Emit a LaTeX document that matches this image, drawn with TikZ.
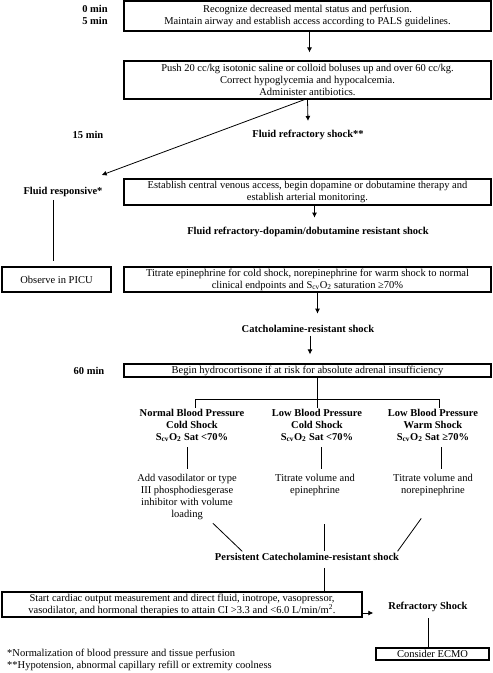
\documentclass[tikz,border=0pt]{standalone}
\usepackage{fontspec}
\setmainfont{Liberation Serif}
\usetikzlibrary{arrows.meta,calc}
\newcommand{\fs}{\fontsize{10.5}{12}\selectfont}
\newcommand{\scvo}{S\textsubscript{cv}O\textsubscript{2}}
\begin{document}
\begin{tikzpicture}[x=1pt,y=-1pt,
  box/.style={draw, line width=1.2pt, align=center, inner sep=0pt, font=\fs},
  lbl/.style={align=center, inner sep=1pt, font=\fs\bfseries},
  txt/.style={align=center, inner sep=1pt, font=\fs},
  arr/.style={-{Latex[length=5pt,width=5pt]}, line width=0.8pt},
  ln/.style={line width=0.8pt}]
\useasboundingbox (0,0) rectangle (493,673);
% time labels
\node[lbl] (tm0) at (95,9) {0 min};
\node[lbl] (tm5) at (95,21) {5 min};
\node[lbl] (tm15) at (88,135) {15 min};
\node[lbl] (tm60) at (89,371) {60 min};
% main boxes
\node[box, minimum width=367pt, minimum height=30pt] (b1) at (307.5,16) {Recognize decreased mental status and perfusion.\\Maintain airway and establish access according to PALS guidelines.};
\node[box, minimum width=367pt, minimum height=38pt] (b2) at (307.5,80) {Push 20 cc/kg isotonic saline or colloid boluses up and over 60 cc/kg.\\Correct hypoglycemia and hypocalcemia.\\Administer antibiotics.};
\node[lbl] (frs) at (308,135) {Fluid refractory shock**};
\node[lbl] (fr) at (63,192) {Fluid responsive*};
\node[box, minimum width=367pt, minimum height=26pt] (b3) at (307.5,192) {Establish central venous access, begin dopamine or dobutamine therapy and\\establish arterial monitoring.};
\node[lbl] (frd) at (308,232) {Fluid refractory-dopamin/dobutamine resistant shock};
\node[box, minimum width=109pt, minimum height=25pt] (obs) at (56.5,279.5) {Observe in PICU};
\node[box, minimum width=367pt, minimum height=25pt] (b4) at (307.5,279.5) {Titrate epinephrine for cold shock, norepinephrine for warm shock to normal\\clinical endpoints and \scvo{} saturation ≥70\%};
\node[lbl] (crs) at (308,329) {Catcholamine-resistant shock};
\node[box, minimum width=367pt, minimum height=13pt] (b5) at (307.5,370.5) {Begin hydrocortisone if at risk for absolute adrenal insufficiency};
% columns
\node[lbl] (h1) at (192,425.5) {Normal Blood Pressure\\Cold Shock\\\scvo{} Sat <70\%};
\node[lbl] (h2) at (317,425.5) {Low Blood Pressure\\Cold Shock\\\scvo{} Sat <70\%};
\node[lbl] (h3) at (433,425.5) {Low Blood Pressure\\Warm Shock\\\scvo{} Sat ≥70\%};
\node[txt] (c1) at (187,496.5) {Add vasodilator or type\\III phosphodiesgerase\\inhibitor with volume\\loading};
\node[txt] (c2) at (315,484.5) {Titrate volume and\\epinephrine};
\node[txt] (c3) at (433,484.5) {Titrate volume and\\norepinephrine};
\node[lbl] (pcs) at (307,557) {Persistent Catecholamine-resistant shock};
\node[box, minimum width=360pt, minimum height=25pt] (b6) at (182,604.5) {Start cardiac output measurement and direct fluid, inotrope, vasopressor,\\vasodilator, and hormonal therapies to attain CI >3.3 and <6.0 L/min/m\textsuperscript{2}.};
\node[lbl] (rs) at (428,607) {Refractory Shock};
\node[box, minimum width=113pt, minimum height=12pt] (ecmo) at (432.5,654) {Consider ECMO};
\node[txt, anchor=west, inner sep=0pt] (fn1) at (7,654) {*Normalization of blood pressure and tissue perfusion};
\node[txt, anchor=west, inner sep=0pt] (fn2) at (7,665.5) {**Hypotension, abnormal capillary refill or extremity coolness};
% connectors
\draw[arr, shorten >=8pt] ([xshift=2pt]b1.south) -- ([xshift=2pt]b1.south |- b2.north);
\draw[arr] (b2.south) -- ($(frs.north)+(0,-8)$);
\draw[arr] ([xshift=-3pt]b2.south) -- ($(fr.north east)+(-2,-11)$);
\draw[arr] ([xshift=7pt]b3.south) -- ($(b3.south)+(7,12)$);
\draw[ln, shorten <=2pt, shorten >=5pt] ([xshift=-10pt]fr.south) -- ([xshift=-10pt]fr.south |- obs.north);
\draw[arr] ([xshift=10pt]b4.south) -- ($(b4.south)+(10,21)$);
\draw[arr, shorten <=2pt, shorten >=9pt] ([xshift=2pt]crs.south) -- ([xshift=2pt]crs.south |- b5.north);
\draw[ln] ([xshift=9.5pt]b5.south) -- ([xshift=9.5pt]b5.south |- h2.north);
\draw[ln] ([xshift=3pt]h1.north) -- ++(0,-8) -| ([xshift=6pt]h3.north);
\draw[ln, shorten <=4pt, shorten >=4pt] ([xshift=-5pt]h1.south) -- ([xshift=-5pt]h1.south |- c1.north);
\draw[ln, shorten <=4pt, shorten >=4pt] ([xshift=4pt]h2.south) -- ([xshift=4pt]h2.south |- c2.north);
\draw[ln, shorten <=4pt, shorten >=4pt] ([xshift=8pt]h3.south) -- ([xshift=8pt]h3.south |- c3.north);
\draw[ln, shorten <=4pt, shorten >=1pt] ([xshift=23pt]c1.south) -- ([xshift=-64pt]pcs.north);
\draw[ln, shorten <=28pt, shorten >=1pt] ([xshift=9pt]c2.south) -- ([xshift=9pt]c2.south |- pcs.north);
\draw[ln, shorten <=27pt, shorten >=1pt] ([xshift=4pt]c3.south) -- ([xshift=90pt]pcs.north);
\draw[ln, shorten <=6pt] ([xshift=17pt]pcs.south) -- ([xshift=17pt]pcs.south |- b6.north);
\draw[arr, shorten >=14pt] ([yshift=-8.5pt]b6.east) -- ([yshift=-8.5pt]b6.east -| rs.west);
\draw[ln, shorten <=5pt] (rs.south) -- (rs.south |- ecmo.north);
\end{tikzpicture}
\end{document}
